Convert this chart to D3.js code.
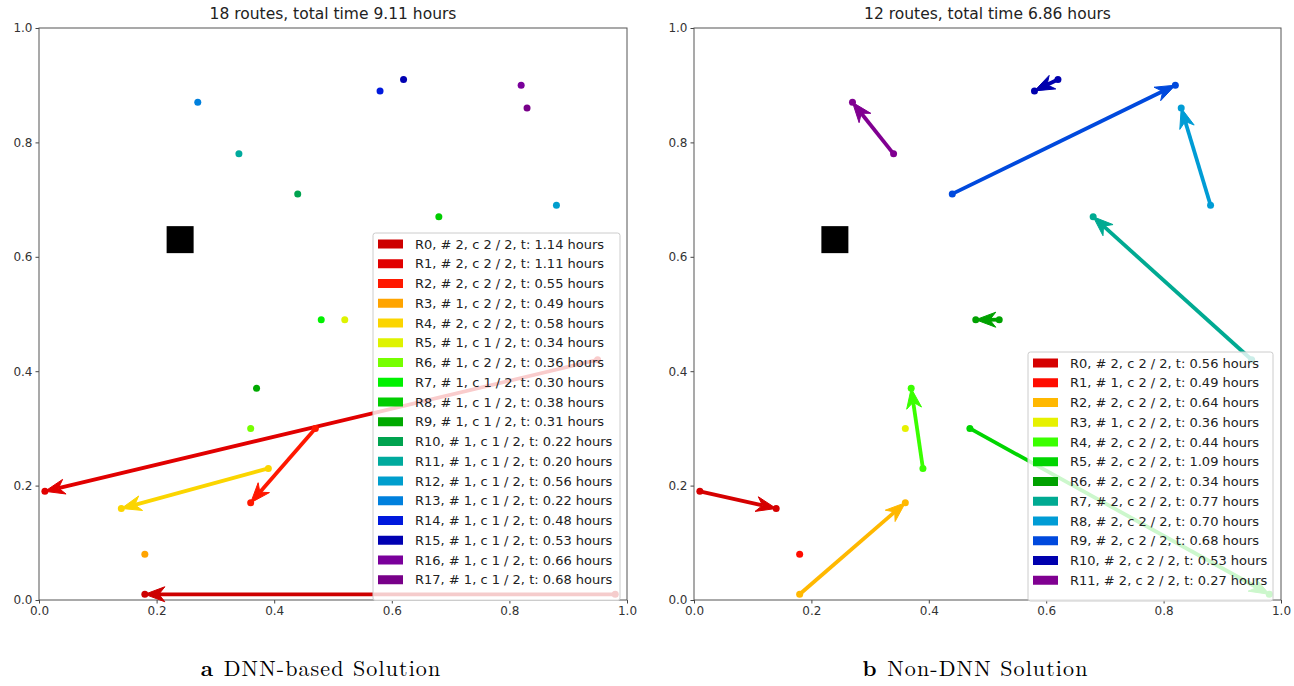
<!DOCTYPE html>
<html><head><meta charset="utf-8">
<script src="https://cdn.jsdelivr.net/npm/d3@7"></script>
<style>body{margin:0;background:#fff}</style>
</head><body><svg id="c" width="1294" height="686"></svg>
<script>
// ---------------- data ----------------
const depot = [0.24, 0.63];
const ticks = [0.0, 0.2, 0.4, 0.6, 0.8, 1.0];

const titleA = "18 routes, total time 9.11 hours";
const captionA = ["a", "DNN-based Solution"];
const routesA = [
  [[0.98, 0.01], [0.18, 0.01]],
  [[0.95, 0.42], [0.01, 0.19]],
  [[0.47, 0.30], [0.36, 0.17]],
  [[0.18, 0.08]],
  [[0.39, 0.23], [0.14, 0.16]],
  [[0.52, 0.49]],
  [[0.36, 0.30]],
  [[0.48, 0.49]],
  [[0.68, 0.67]],
  [[0.37, 0.37]],
  [[0.44, 0.71]],
  [[0.34, 0.78]],
  [[0.88, 0.69]],
  [[0.27, 0.87]],
  [[0.58, 0.89]],
  [[0.62, 0.91]],
  [[0.82, 0.90]],
  [[0.83, 0.86]]
];
const capA = [2, 2, 2, 2, 2, 1, 2, 1, 1, 1, 1, 1, 1, 1, 1, 1, 1, 1];
const timeA = [1.14, 1.11, 0.55, 0.49, 0.58, 0.34, 0.36, 0.30, 0.38, 0.31, 0.22, 0.20, 0.56, 0.22, 0.48, 0.53, 0.66, 0.68];

const titleB = "12 routes, total time 6.86 hours";
const captionB = ["b", "Non-DNN Solution"];
const routesB = [
  [[0.01, 0.19], [0.14, 0.16]],
  [[0.18, 0.08]],
  [[0.18, 0.01], [0.36, 0.17]],
  [[0.36, 0.30]],
  [[0.39, 0.23], [0.37, 0.37]],
  [[0.47, 0.30], [0.98, 0.01]],
  [[0.52, 0.49], [0.48, 0.49]],
  [[0.95, 0.42], [0.68, 0.67]],
  [[0.88, 0.69], [0.83, 0.86]],
  [[0.44, 0.71], [0.82, 0.90]],
  [[0.62, 0.91], [0.58, 0.89]],
  [[0.34, 0.78], [0.27, 0.87]]
];
const capB = [2, 2, 2, 2, 2, 2, 2, 2, 2, 2, 2, 2];
const timeB = [0.56, 0.49, 0.64, 0.36, 0.44, 1.09, 0.34, 0.77, 0.70, 0.68, 0.53, 0.27];

// nipy_spectral colormap stops
const cmapStops = [
  [0.0,0,0],[0.4667,0,0.5333],[0.5333,0,0.6],[0,0,0.6667],[0,0,0.8667],
  [0,0.4667,0.8667],[0,0.6,0.8667],[0,0.6667,0.6667],[0,0.6667,0.5333],
  [0,0.6,0],[0,0.7333,0],[0,0.8667,0],[0,1,0],[0.7333,1,0],[0.9333,0.9333,0],
  [1,0.8,0],[1,0.6,0],[1,0,0],[0.8667,0,0],[0.8,0,0],[0.8,0.8,0.8]
];
function cmap(t) {
  const n = cmapStops.length - 1;
  const p = Math.max(0, Math.min(1, t)) * n;
  const i = Math.min(n - 1, Math.floor(p)), f = p - i;
  const a = cmapStops[i], b = cmapStops[i + 1];
  return d3.rgb(...a.map((v, k) => 255 * (v + (b[k] - v) * f))).formatHex();
}

// ---------------- drawing ----------------
const svg = d3.select("#c");
const FONT = "'DejaVu Sans', sans-serif";

function panel(opts) {
  const { x0, x1, y0, y1, routes, cap, time, title, caption, legend } = opts;
  const n = routes.length;
  const colors = routes.map((r, i) => cmap(1 - (i + 1) / (n + 1)));
  const xs = d3.scaleLinear().domain([0, 1]).range([x0, x1]);
  const ys = d3.scaleLinear().domain([0, 1]).range([y1, y0]);
  const g = svg.append("g");

  // axes
  const ax = g.append("g").attr("transform", `translate(0,${y1})`)
    .call(d3.axisBottom(xs).tickValues(ticks).tickFormat(d3.format(".1f")).tickSizeOuter(0).tickSize(3.5).tickPadding(3));
  const ay = g.append("g").attr("transform", `translate(${x0},0)`)
    .call(d3.axisLeft(ys).tickValues(ticks).tickFormat(d3.format(".1f")).tickSizeOuter(0).tickSize(3.5).tickPadding(3));
  [ax, ay].forEach(a => {
    a.select(".domain").remove();
    a.selectAll("line").attr("stroke", "#444");
    a.selectAll("text").attr("font-family", FONT).attr("font-size", 12).attr("fill", "#333");
  });
  g.append("rect").attr("x", x0).attr("y", y0).attr("width", x1 - x0).attr("height", y1 - y0)
    .attr("fill", "none").attr("stroke", "#555").attr("stroke-width", 1);

  // depot
  const ds = 27;
  g.append("rect").attr("x", xs(depot[0]) - ds / 2).attr("y", ys(depot[1]) - ds / 2)
    .attr("width", ds).attr("height", ds).attr("fill", "#000");

  // routes
  const L = 20, W = 7.5, notch = 14;
  routes.forEach((pts, ri) => {
    const col = colors[ri];
    for (let k = 0; k + 1 < pts.length; k++) {
      const sx = xs(pts[k][0]), sy = ys(pts[k][1]);
      const ex = xs(pts[k + 1][0]), ey = ys(pts[k + 1][1]);
      const dx = ex - sx, dy = ey - sy, len = Math.hypot(dx, dy);
      const ux = dx / len, uy = dy / len, nx = -uy, ny = ux;
      const bx = ex - ux * L, by = ey - uy * L;
      const mx = ex - ux * notch, my = ey - uy * notch;
      g.append("line").attr("x1", sx).attr("y1", sy).attr("x2", mx).attr("y2", my)
        .attr("stroke", col).attr("stroke-width", 3.8);
      g.append("path")
        .attr("d", `M${ex},${ey}L${bx + nx * W},${by + ny * W}L${mx},${my}L${bx - nx * W},${by - ny * W}Z`)
        .attr("fill", col).attr("stroke", col).attr("stroke-width", 1).attr("stroke-linejoin", "miter");
    }
    pts.forEach(p => {
      g.append("circle").attr("cx", xs(p[0])).attr("cy", ys(p[1])).attr("r", 3.5).attr("fill", col);
    });
  });

  // title
  g.append("text").attr("x", (x0 + x1) / 2).attr("y", y0 - 9).attr("text-anchor", "middle")
    .attr("font-family", FONT).attr("font-size", 15.5).attr("fill", "#222").text(title);

  // legend
  const lg = g.append("g");
  lg.append("rect").attr("x", legend.x).attr("y", legend.y).attr("width", legend.w)
    .attr("height", 12 + 19.75 * n).attr("rx", 2.5)
    .attr("fill", "#fff").attr("fill-opacity", 0.8).attr("stroke", "#ccc").attr("stroke-width", 1);
  routes.forEach((pts, i) => {
    const cy = legend.y + 11 + 19.75 * i;
    lg.append("rect").attr("x", legend.x + 5).attr("y", cy - 4.5).attr("width", 25).attr("height", 9)
      .attr("fill", colors[i]);
    lg.append("text").attr("x", legend.x + 42).attr("y", cy).attr("dy", "0.36em")
      .attr("font-family", FONT).attr("font-size", 13).attr("fill", "#222")
      .text(`R${i}, # ${pts.length}, c ${cap[i]} / 2, t: ${time[i].toFixed(2)} hours`);
  });

  // caption
  const ct = g.append("text").attr("x", (x0 + x1) / 2 - 12).attr("y", 676).attr("text-anchor", "middle")
    .attr("font-family", "'Latin Modern Roman','Liberation Serif','DejaVu Serif',serif").attr("font-size", 22)
    .attr("letter-spacing", 1.1).attr("fill", "#000");
  ct.append("tspan").attr("font-weight", "bold").text(caption[0] + " ");
  ct.append("tspan").text(caption[1]);
}

panel({ x0: 39, x1: 627, y0: 28, y1: 600, routes: routesA, cap: capA, time: timeA,
  title: titleA, caption: captionA, legend: { x: 373, y: 233, w: 247 } });
panel({ x0: 694, x1: 1281, y0: 28, y1: 600, routes: routesB, cap: capB, time: timeB,
  title: titleB, caption: captionB, legend: { x: 1028, y: 352, w: 245 } });
</script>
</body></html>
